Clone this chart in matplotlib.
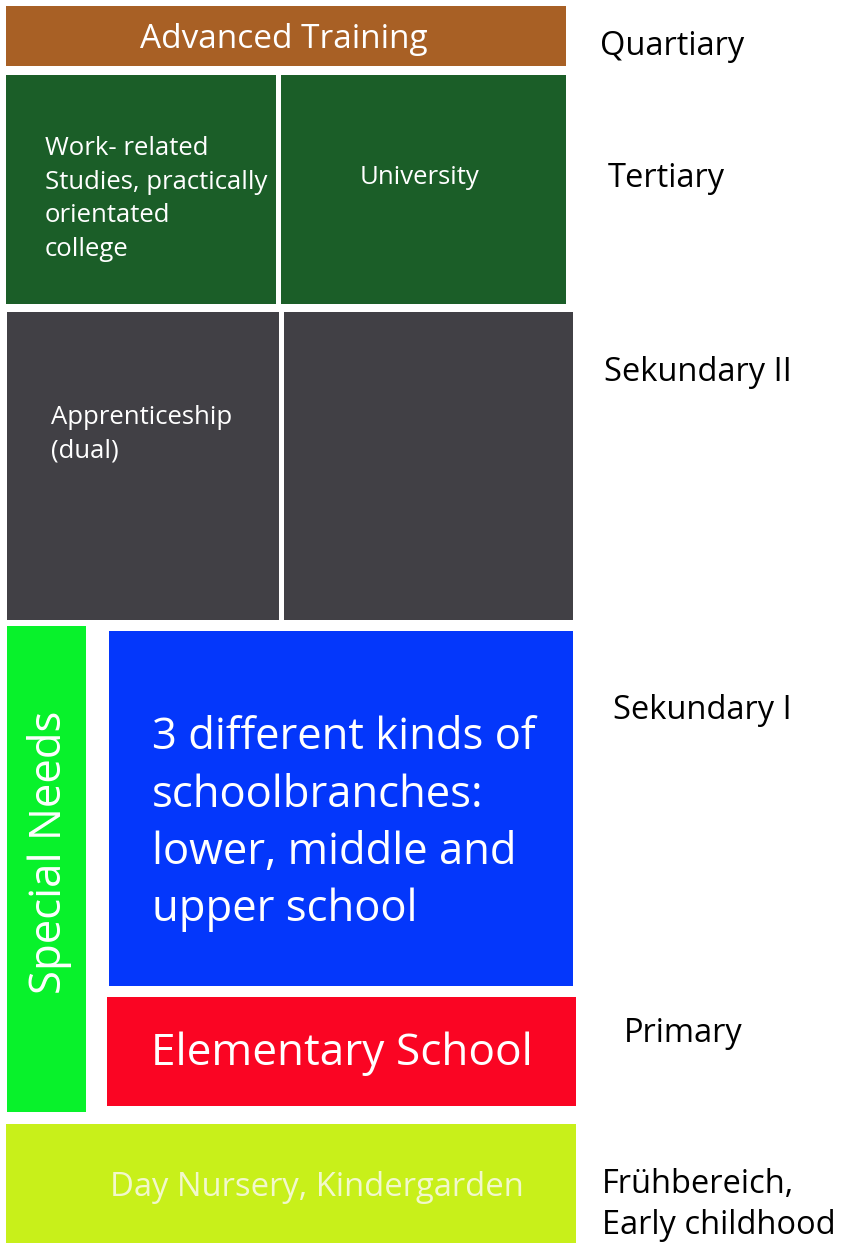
import matplotlib.pyplot as plt
from matplotlib.patches import Rectangle

plt.rcParams['font.family'] = ['Open Sans', 'DejaVu Sans']

# boxes: (left, top, right, bottom) in picture pixels
box_names = ['advanced', 'college', 'university', 'apprentice', 'school2',
             'special', 'sek1', 'primary', 'nursery']
box_edges = [(6, 6, 566, 66), (6, 75, 276, 304), (281, 75, 566, 304),
             (7, 312, 279, 620), (284, 312, 573, 620),
             (7, 626, 86, 1112), (109, 631, 573, 986),
             (107, 997, 576, 1106), (6, 1124, 576, 1243)]
box_colors = ['#a86025', '#1b5e28', '#1b5e28', '#414045', '#414045',
              '#08f22b', '#0437fb', '#fa0523', '#c8f01a']

stage_labels = ['Quartiary', 'Tertiary', 'Sekundary II', 'Sekundary I',
                'Primary', 'Frühbereich,\nEarly childhood']
stage_pos = [(600, 46), (608, 178), (604, 372), (613, 710), (624, 1034), (602, 1205)]

fig = plt.figure(figsize=(8.44, 12.43), dpi=100)
ax = fig.add_axes([0, 0, 1, 1])
ax.set_xlim(0, 844)
ax.set_ylim(1243, 0)
ax.axis('off')

for (x0, y0, x1, y1), c in zip(box_edges, box_colors):
    ax.add_patch(Rectangle((x0, y0), x1 - x0, y1 - y0, facecolor=c, edgecolor='none'))

ax.text(284, 39, 'Advanced Training', color='white', fontsize=24, ha='center', va='center')
ax.text(45, 199, 'Work- related\nStudies, practically\norientated\ncollege', color='white',
        fontsize=18.5, ha='left', va='center', linespacing=1.45)
ax.text(419, 177, 'University', color='white', fontsize=18.5, ha='center', va='center')
ax.text(51, 434, 'Apprenticeship\n(dual)', color='white', fontsize=18.5, ha='left', va='center',
        linespacing=1.45)
ax.text(50, 852, 'Special Needs', color='white', fontsize=31.5, ha='center', va='center', rotation=90)
ax.text(152, 824, '3 different kinds of\nschoolbranches:\nlower, middle and\nupper school', color='white',
        fontsize=31.4, ha='left', va='center', linespacing=1.38)
ax.text(342, 1054, 'Elementary School', color='white', fontsize=31.8, ha='center', va='center')
ax.text(317, 1188, 'Day Nursery, Kindergarden', color='#f2f8cc', fontsize=23.6, ha='center', va='center')

for lab, (x, y) in zip(stage_labels, stage_pos):
    ax.text(x, y, lab, color='black', fontsize=23.5, ha='left', va='center', linespacing=1.3)

fig.savefig('out.png', dpi=100)
